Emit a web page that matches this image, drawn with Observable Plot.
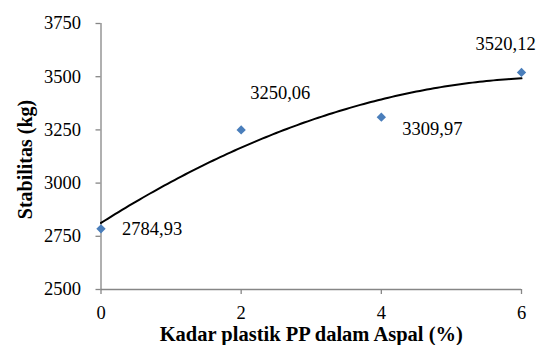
<!DOCTYPE html>
<html>
<head>
<meta charset="utf-8">
<script src="https://cdn.jsdelivr.net/npm/d3@7"></script>
<script src="https://cdn.jsdelivr.net/npm/@observablehq/plot@0.6"></script>
<style>
  html, body { margin: 0; padding: 0; background: #fff; }
  svg { display: block; }
</style>
</head>
<body>
<div id="chart"></div>
<script>
const kadar = [0, 2, 4, 6];
const stabilitas = [2784.93, 3250.06, 3309.97, 3520.12];
const xTicks = [0, 2, 4, 6];
const yTicks = [2500, 2750, 3000, 3250, 3500, 3750];
const xTitle = "Kadar plastik PP dalam Aspal (%)";
const yTitle = "Stabilitas (kg)";

const data = kadar.map((x, i) => ({x, y: stabilitas[i], label: stabilitas[i].toFixed(2).replace(".", ",")}));

// Polynomial (order 2) least-squares trendline, like the spreadsheet trendline
function polyFit2(xs, ys) {
  let s = [0,0,0,0,0], t = [0,0,0];
  xs.forEach((x, i) => {
    for (let k = 0; k < 5; k++) s[k] += Math.pow(x, k);
    for (let k = 0; k < 3; k++) t[k] += Math.pow(x, k) * ys[i];
  });
  const A = [[s[0], s[1], s[2], t[0]], [s[1], s[2], s[3], t[1]], [s[2], s[3], s[4], t[2]]];
  for (let i = 0; i < 3; i++) {
    for (let j = i + 1; j < 3; j++) {
      const f = A[j][i] / A[i][i];
      for (let k = i; k < 4; k++) A[j][k] -= f * A[i][k];
    }
  }
  const c = [0,0,0];
  for (let i = 2; i >= 0; i--) {
    let v = A[i][3];
    for (let k = i + 1; k < 3; k++) v -= A[i][k] * c[k];
    c[i] = v / A[i][i];
  }
  return c;
}
const coef = polyFit2(kadar, stabilitas);
const trend = d3.range(0, 6.0001, 0.05).map(x => ({x, y: coef[0] + coef[1] * x + coef[2] * x * x}));

const labelDx = [21, 9, 21, -46];
const labelDy = [0, -37, 12, -28];

const font = "Liberation Serif";
const axisColor = "#868686";
const txt = {fontFamily: font, fontSize: 18.5, fill: "#000"};

const chart = Plot.plot({
  width: 542,
  height: 345,
  marginLeft: 100.5,
  marginRight: 21,
  marginTop: 23,
  marginBottom: 56,
  style: {fontFamily: font, fontSize: "18.5px", color: "#000", background: "#fff"},
  x: {domain: [0, 6]},
  y: {domain: [2500, 3750]},
  marks: [
    Plot.ruleY([2500], {stroke: axisColor, strokeWidth: 1.3}),
    Plot.ruleX([0], {stroke: axisColor, strokeWidth: 1.3}),
    Plot.axisX({ticks: xTicks, tickSize: 5, tickPadding: 11.5, stroke: axisColor, strokeWidth: 1.3, tickFormat: d => String(d), label: null, ...txt}),
    Plot.axisY({ticks: yTicks, tickSize: 5, tickPadding: 15, stroke: axisColor, strokeWidth: 1.3, tickFormat: d => String(d), label: null, ...txt}),
    Plot.line(trend, {x: "x", y: "y", stroke: "#000", strokeWidth: 2}),
    Plot.dot(data, {x: "x", y: "y", symbol: "diamond2", r: 4.2, fill: "#4a7ebb", stroke: "none"}),
    ...data.map((d, i) => Plot.text([d], {x: "x", y: "y", text: "label", textAnchor: "start", lineAnchor: "middle", dx: labelDx[i], dy: labelDy[i], ...txt})),
    Plot.text([xTitle], {frameAnchor: "bottom", textAnchor: "middle", lineAnchor: "middle", dy: 44.5, fontWeight: "bold", ...txt, fontSize: 20.5}),
    Plot.text([yTitle], {frameAnchor: "left", textAnchor: "middle", lineAnchor: "middle", dx: -75, dy: 3, rotate: -90, fontWeight: "bold", ...txt, fontSize: 20})
  ]
});
document.getElementById("chart").appendChild(chart);
</script>
</body>
</html>
